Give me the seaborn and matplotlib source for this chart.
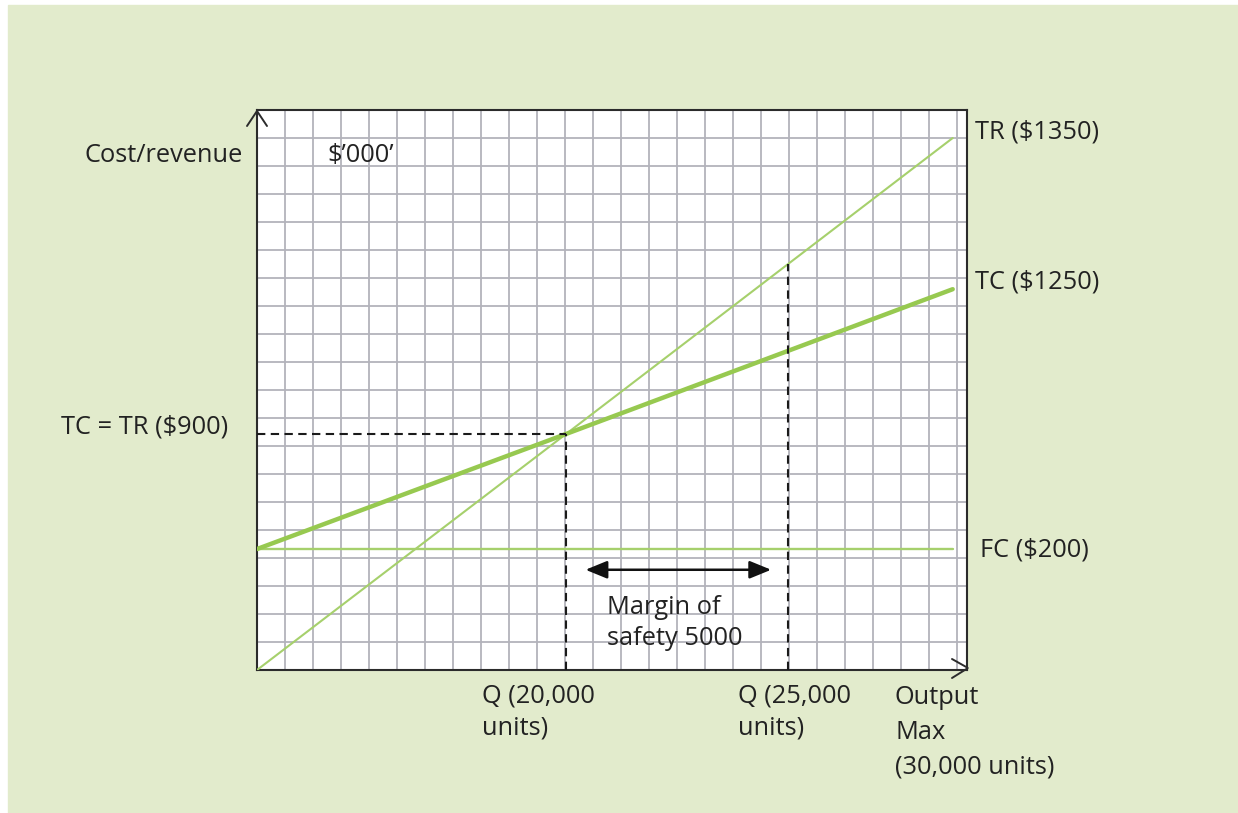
import numpy as np
import matplotlib
matplotlib.use("Agg")
import matplotlib.pyplot as plt
from matplotlib.lines import Line2D
from matplotlib.patches import Rectangle
from matplotlib.ticker import FixedLocator, NullFormatter
import matplotlib.transforms as mtransforms
import seaborn as sns

# ---- break-even data ($'000 and units) ----
OUTPUT = [0, 20000, 30000]          # output levels (units)
TOTAL_REVENUE = [0, 900, 1350]      # TR at each output level
TOTAL_COST = [200, 900, 1250]       # TC at each output level
FIXED_COST = [200, 200, 200]        # FC is flat
BREAK_EVEN_Q = 20000
BREAK_EVEN_VALUE = 900
PLANNED_Q = 25000
MARGIN_OF_SAFETY = PLANNED_Q - BREAK_EVEN_Q

W, H = 1238, 813
BG = "#e2ebcc"
GRID = "#b3b3bb"
FRAME = "#2b2b2b"
THIN_GREEN = "#a6d06c"
THICK_GREEN = "#97c950"
TEXT = "#222222"

sns.set_theme(style="white")
plt.rcParams["font.family"] = ["Open Sans", "DejaVu Sans"]
FS = 18.3


def piecewise(src, dst):
    """Monotone piecewise-linear map with linear extrapolation at both ends."""
    src = np.asarray(src, float)
    dst = np.asarray(dst, float)

    def f(v):
        v = np.asarray(v, float)
        out = np.interp(v, src, dst)
        lo_slope = (dst[1] - dst[0]) / (src[1] - src[0])
        hi_slope = (dst[-1] - dst[-2]) / (src[-1] - src[-2])
        out = np.where(v < src[0], dst[0] + (v - src[0]) * lo_slope, out)
        out = np.where(v > src[-1], dst[-1] + (v - src[-1]) * hi_slope, out)
        return out
    return f


# schematic (not-to-scale) axes: value -> grid cells
X_KNOTS = ([0, 20000, 25000, 30000], [0, 11.04, 18.96, 24.85])
Y_KNOTS = ([0, 200, 900, 1250, 1350], [0, 4.32, 8.43, 13.6, 19.0])
x_fwd, x_inv = piecewise(*X_KNOTS), piecewise(X_KNOTS[1], X_KNOTS[0])
y_fwd, y_inv = piecewise(*Y_KNOTS), piecewise(Y_KNOTS[1], Y_KNOTS[0])
N_COLS, N_ROWS = 25.36, 20

fig = plt.figure(figsize=(W / 100, H / 100), dpi=100)
fig.patch.set_facecolor("white")
fig.add_artist(Rectangle((8 / W, 0), 1 - 8 / W, 1 - 5 / H,
                         transform=fig.transFigure, color=BG, zorder=-5))

ax = fig.add_axes([257 / W, 1 - 670 / H, (967 - 257) / W, (670 - 110) / H])
ax.set_facecolor("white")

sns.lineplot(x=OUTPUT, y=FIXED_COST, ax=ax, color=THIN_GREEN, lw=1.7, zorder=3)
sns.lineplot(x=OUTPUT, y=TOTAL_REVENUE, ax=ax, color=THIN_GREEN, lw=1.5, zorder=3)
sns.lineplot(x=OUTPUT, y=TOTAL_COST, ax=ax, color=THICK_GREEN, lw=3.2, zorder=4)

ax.set_xscale("function", functions=(x_fwd, x_inv))
ax.set_yscale("function", functions=(y_fwd, y_inv))
ax.set_xlim(0, float(x_inv(N_COLS)))
ax.set_ylim(0, float(y_inv(N_ROWS)))

# square grid: one line per grid cell
ax.xaxis.set_major_locator(FixedLocator(x_inv(np.arange(0, 26))))
ax.yaxis.set_major_locator(FixedLocator(y_inv(np.arange(0, 21))))
ax.xaxis.set_major_formatter(NullFormatter())
ax.yaxis.set_major_formatter(NullFormatter())
ax.tick_params(length=0)
ax.grid(True, color=GRID, lw=1.3)
ax.set_axisbelow(True)
ax.set_xlabel("")
ax.set_ylabel("")
for sp in ax.spines.values():
    sp.set_color(FRAME)
    sp.set_linewidth(1.5)

# dashed guides at break-even and at planned output
dash = dict(color="#1a1a1a", lw=1.5, ls=(0, (4, 2.6)), zorder=5)
ax.plot([0, BREAK_EVEN_Q], [BREAK_EVEN_VALUE, BREAK_EVEN_VALUE], **dash)
ax.plot([BREAK_EVEN_Q, BREAK_EVEN_Q], [0, BREAK_EVEN_VALUE], **dash)
tr_gy = np.interp(x_fwd(PLANNED_Q), x_fwd(OUTPUT), y_fwd(TOTAL_REVENUE))
ax.plot([PLANNED_Q, PLANNED_Q], [0, float(y_inv(tr_gy))], **dash)

# margin-of-safety double arrow
blend = mtransforms.blended_transform_factory(ax.transData, ax.transAxes)
ax.annotate("", xy=(PLANNED_Q, 0.179), xytext=(BREAK_EVEN_Q, 0.179),
            xycoords=blend, textcoords=blend,
            arrowprops=dict(arrowstyle="<|-|>,head_length=1.1,head_width=0.45",
                            mutation_scale=12, color="#111111", lw=1.8,
                            shrinkA=14, shrinkB=12), zorder=6)


def fx(px):
    return px / W


def fy(py):
    return 1 - py / H


# open chevrons on the axis ends
for xs, ys in (([247, 257, 267], [126, 111, 126]),
               ([952, 968, 952], [659, 668, 678])):
    fig.add_artist(Line2D([fx(v) for v in xs], [fy(v) for v in ys],
                          transform=fig.transFigure, color=FRAME, lw=1.4,
                          solid_joinstyle="miter"))

txt = dict(fontsize=FS, color=TEXT, va="center")
fig.text(fx(243), fy(155), "Cost/revenue", ha="right", **txt)
fig.text(fx(327), fy(155), "$\u2019000\u2019", ha="left", **txt)
fig.text(fx(228), fy(427), f"TC = TR (${BREAK_EVEN_VALUE})", ha="right", **txt)
fig.text(fx(975), fy(132), f"TR (${TOTAL_REVENUE[-1]})", ha="left", **txt)
fig.text(fx(975), fy(282), f"TC (${TOTAL_COST[-1]})", ha="left", **txt)
fig.text(fx(980), fy(550), f"FC (${FIXED_COST[-1]})", ha="left", **txt)
fig.text(fx(607), fy(623), f"Margin of\nsafety {MARGIN_OF_SAFETY}",
         ha="left", linespacing=1.33, **txt)
fig.text(fx(482), fy(712), f"Q ({BREAK_EVEN_Q:,}\nunits)",
         ha="left", linespacing=1.42, **txt)
fig.text(fx(738), fy(712), f"Q ({PLANNED_Q:,}\nunits)",
         ha="left", linespacing=1.42, **txt)
fig.text(fx(895), fy(732), f"Output\nMax\n({OUTPUT[-1]:,} units)",
         ha="left", linespacing=1.5, **txt)

fig.savefig("out.png", dpi=100, facecolor=fig.get_facecolor())
